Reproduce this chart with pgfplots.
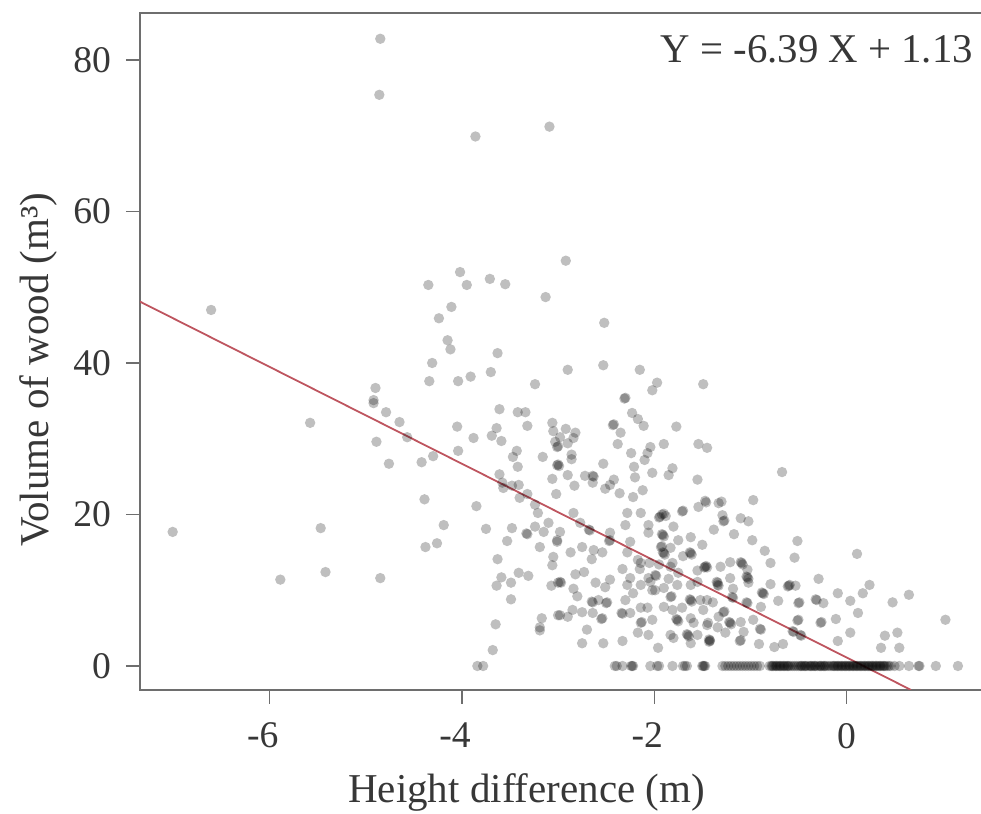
\documentclass[border=0pt]{standalone}
\usepackage{pgfplots}
\pgfplotsset{compat=1.18}
\usepackage{fontspec}
\setmainfont{Liberation Serif}
\definecolor{ax}{RGB}{110,110,110}
\definecolor{txt}{RGB}{55,55,55}
\definecolor{reg}{RGB}{190,85,95}
\newcommand{\neglab}[1]{\makebox[0pt][c]{\hspace{-7pt}#1}}
\begin{document}
\begin{tikzpicture}
\useasboundingbox (0,0) rectangle (490.5pt,407pt);
\begin{axis}[
  at={(70pt,62pt)}, anchor=south west, scale only axis,
  width=423pt, height=338.5pt,
  xmin=-7.35, xmax=1.452, ymin=-3.17, ymax=86.2,
  axis line style={ax,line width=1.3pt},
  xtick pos=lower, ytick pos=left,
  tick style={ax,line width=0.7pt},
  tick align=outside, major tick length=7pt,
  xtick={-6,-4,-2,0}, xticklabels={\neglab{-6},\neglab{-4},\neglab{-2},0},
  ytick={0,20,40,60,80}, yticklabels={0,20,40,60,80},
  every tick label/.append style={font=\fontsize{18.8}{21}\selectfont, text=txt},
  xticklabel style={yshift=-6pt},
  yticklabel style={xshift=-4pt},
  xlabel={Height difference (m)}, ylabel={Volume of wood (m³)},
  label style={font=\fontsize{20.5}{22}\selectfont, text=txt},
  x label style={at={(axis description cs:0.457,-0.151)}, anchor=center},
  y label style={at={(axis description cs:-0.1205,0.473)}, anchor=center},
  clip=true,
]
\addplot[only marks, mark=*, mark size=2.6pt, mark options={draw opacity=0, fill=black, fill opacity=0.25}] coordinates {
(-4.85,82.8) (-4.86,75.4) (-3.86,69.9) (-3.09,71.2) (-4.35,50.3) (-4.02,52.0) (-3.95,50.3) (-3.71,51.1) (-3.55,50.4) (-3.13,48.7)
(-4.11,47.4) (-4.24,45.9) (-4.15,43.0) (-4.12,41.8) (-6.61,47.0) (-2.92,53.5) (-2.52,45.3)
(-3.63,41.3) (-4.31,40.0) (-3.70,38.8) (-3.91,38.2) (-4.04,37.6) (-4.34,37.6) (-3.24,37.2) (-4.90,36.7) (-4.92,35.1) (-4.92,34.7)
(-4.79,33.5) (-4.65,32.2) (-5.58,32.1) (-3.61,33.9) (-3.42,33.5) (-3.34,33.5) (-4.05,31.6) (-3.32,31.7) (-3.64,31.4) (-3.69,30.4)
(-3.59,29.7) (-3.88,30.1) (-4.89,29.6) (-4.57,30.2) (-4.04,28.4) (-4.30,27.7) (-4.42,26.9) (-4.76,26.7) (-3.06,32.1) (-3.05,31.0)
(-3.03,29.6) (-3.01,28.9) (-3.43,28.4) (-3.47,27.6) (-3.16,27.6) (-3.01,26.5) (-3.00,26.6) (-2.99,26.4) (-3.42,26.3) (-3.06,24.7) (-3.61,25.3)
(-3.58,24.2) (-3.57,23.5) (-3.48,23.8) (-3.41,23.9) (-3.40,22.2) (-3.32,22.7) (-3.02,22.7) (-3.24,21.3) (-3.21,20.2) (-4.39,22.0)
(-3.85,21.1) (-4.19,18.6) (-3.75,18.1) (-3.48,18.2) (-5.47,18.2) (-7.01,17.7) (-3.32,17.4) (-3.33,17.5) (-3.24,18.4) (-3.15,17.7) (-3.10,18.9)
(-3.53,16.5) (-3.19,15.7) (-3.01,16.6) (-4.26,16.2) (-4.38,15.7) (-3.63,14.1) (-3.05,14.4) (-3.06,13.3) (-5.42,12.4) (-4.85,11.6)
(-5.89,11.4) (-3.59,11.7) (-3.41,12.3) (-3.31,11.9) (-3.49,11.0) (-3.64,10.6) (-3.07,10.6) (-3.00,11.0) (-3.49,8.8) (-3.65,5.5)
(-3.00,6.7) (-3.17,6.3) (-3.19,5.1) (-3.19,4.7) (-3.68,2.1) (-3.84,0) (-3.78,0)
(-2.90,39.1) (-2.53,39.7) (-2.15,39.1) (-1.49,37.2) (-1.97,37.4) (-2.02,36.4) (-2.30,35.4) (-2.31,35.3) (-2.23,33.4) (-2.17,32.6) (-2.11,31.7)
(-2.42,31.9) (-2.43,31.8) (-2.35,30.8) (-1.77,31.6) (-2.92,31.3) (-2.82,30.8) (-2.84,30.1) (-2.98,30.2) (-3.00,29.0) (-2.90,29.4)
(-2.86,27.9) (-2.86,27.3) (-2.38,29.3) (-2.24,28.1) (-2.04,28.9) (-2.07,28.1) (-2.10,27.2) (-1.90,29.3) (-1.54,29.3) (-1.45,28.8)
(-2.53,26.7) (-2.21,26.3) (-2.20,24.9) (-2.02,25.5) (-1.81,26.1) (-1.85,25.2) (-1.55,24.6) (-2.90,25.2) (-2.72,25.1) (-2.63,25.0) (-2.64,25.1)
(-2.64,24.2) (-2.83,23.8) (-2.42,24.6) (-2.46,23.9) (-2.51,23.4) (-2.36,22.8) (-2.22,22.3) (-2.12,23.2) (-2.84,20.2) (-2.28,20.2)
(-2.14,20.2) (-1.90,20.1) (-1.92,20.0) (-1.88,19.8) (-1.70,20.5) (-1.71,20.4) (-1.54,21.0) (-1.47,21.8) (-1.46,21.6) (-1.33,21.5)
(-2.98,17.7) (-3.01,16.4) (-2.87,15.0) (-2.77,18.9) (-2.68,18.0) (-2.67,17.9) (-2.46,17.6) (-2.46,16.6) (-2.47,16.5) (-2.25,16.4) (-2.28,15.0) (-2.17,14.0)
(-2.75,15.7) (-2.63,15.3) (-2.54,15.0) (-2.65,14.1) (-2.33,12.8) (-2.25,11.6) (-2.28,10.7) (-2.46,11.4) (-2.51,10.4) (-2.61,11.0)
(-2.73,12.4) (-2.82,12.1) (-2.98,11.1) (-2.97,11.0) (-2.84,10.2) (-2.80,9.2) (-2.64,8.4) (-2.65,8.5) (-2.58,8.7) (-2.50,8.3) (-2.49,8.4) (-2.30,8.7) (-2.22,9.6)
(-2.14,10.7) (-2.06,11.6) (-1.99,12.0) (-1.98,11.9) (-1.99,10.0) (-2.07,7.7) (-1.90,7.8) (-1.83,9.1) (-1.82,9.2) (-1.62,8.7) (-1.63,8.8) (-1.61,8.5)
(-1.76,6.1) (-1.77,6.2) (-1.75,5.9) (-1.65,4.1) (-1.66,4.2) (-1.64,3.9) (-1.80,3.7) (-1.62,3.0) (-2.14,5.7) (-2.13,5.8) (-2.17,4.4) (-2.06,4.1) (-2.02,6.1) (-2.33,3.3)
(-2.53,3.0) (-2.75,3.0) (-2.70,4.8) (-2.54,6.3) (-2.55,6.2) (-2.33,6.9) (-2.34,7.0) (-2.25,7.0) (-1.96,2.4) (-2.98,6.7) (-2.90,6.5) (-2.85,7.4)
(-2.75,7.1) (-2.64,7.0) (-1.44,5.7) (-1.42,3.4) (-1.43,3.5) (-1.62,17.0) (-1.62,14.9) (-1.63,15.0) (-1.61,14.7) (-1.90,14.9) (-1.91,15.0) (-1.89,14.7)
(-1.91,17.3) (-1.92,17.4) (-1.90,17.1) (-1.94,19.7) (-1.95,19.6) (-2.06,18.6) (-2.06,17.6) (-1.80,18.4) (-1.47,13.1) (-1.46,13.2) (-1.48,13.0) (-1.34,10.7) (-1.33,10.6)
(-1.83,13.1) (-1.38,18.0) (-1.52,8.7) (-2.14,7.7) (-1.76,10.7) (-1.81,7.4) (-2.02,10.0) (-1.62,10.7) (-1.45,8.7) (-1.33,6.5) (-1.71,7.7) (-1.59,5.7)
(-2.15,12.8) (-2.05,13.6) (-1.95,13.4) (-1.75,12.3) (-1.55,12.6) (-1.70,14.5) (-1.85,11.5) (-1.50,16.0) (-1.75,16.6)
(-2.30,18.6) (-2.14,13.6) (-1.03,12.7) (-1.93,15.7) (-1.92,15.8) (-1.83,15.6) (-1.81,13.6) (-1.49,7.4) (-1.62,6.3) (-1.45,5.4) (-1.90,10.3) (-1.55,11.1) (-2.04,11.1) (-1.83,4.1) (-1.55,4.1) (-1.34,5.1)
(-0.67,25.6) (-0.97,21.9) (-1.30,21.7) (-1.29,19.9) (-1.28,19.1) (-1.27,19.2) (-1.10,19.5) (-1.02,19.1) (-1.17,17.4) (-0.98,16.6) (-0.51,16.5) (-0.54,14.3)
(-0.85,15.2) (-0.79,13.6) (0.11,14.8) (-1.09,13.6) (-1.10,13.7) (-1.08,13.4) (-1.21,13.7) (-1.45,13.0) (-1.31,13.1) (-1.03,11.7) (-1.04,11.8) (-1.02,11.5) (-1.21,11.6)
(-1.34,11.0) (-1.35,11.1) (-1.02,11.0) (-0.29,11.5) (-0.79,10.8) (-0.60,10.6) (-0.61,10.5) (-0.59,10.7) (-0.53,10.6) (-1.18,10.2) (-0.87,9.6) (-0.88,9.7) (-0.86,9.5)
(-0.71,8.6) (-0.09,9.6) (0.24,10.7) (0.17,9.6) (0.65,9.4) (0.48,8.4) (0.04,8.6) (-0.31,8.7) (-0.32,8.8) (-0.24,8.3) (-0.50,8.3) (-0.49,8.4) (-1.03,8.3) (-1.04,8.4)
(-1.18,9.0) (-1.19,9.1) (-1.39,8.4) (-0.89,7.8) (-1.28,7.1) (-1.27,7.2) (0.12,7.0) (1.03,6.1) (-0.11,6.2) (-0.26,5.8) (-0.27,5.7) (-0.50,6.1) (-0.51,6.0) (-0.97,6.1)
(-1.21,5.7) (-1.22,5.8) (-1.20,5.5) (-1.10,5.8) (-0.89,4.8) (-0.90,4.9) (-1.07,4.5) (-1.26,4.4) (-0.55,4.5) (-0.56,4.6) (-0.48,4.1) (-0.47,4.0) (0.04,4.4) (-0.09,3.3)
(0.40,4.0) (0.53,4.4) (0.36,2.4) (0.55,2.4) (-1.42,3.3) (-1.43,3.2) (-1.10,3.4) (-1.11,3.3) (-0.91,2.9) (-0.75,2.5) (-0.66,2.9)
(-2.41,0) (-2.39,0) (-2.33,0) (-2.24,0) (-2.23,0) (-2.22,0) (-2.04,0) (-1.97,0) (-1.95,0) (-1.81,0) (-1.70,0) (-1.68,0) (-1.66,0) (-1.50,0) (-1.49,0) (-1.48,0) (-1.47,0)
(-1.29,0) (-1.26,0) (-1.23,0) (-1.20,0) (-1.17,0) (-1.14,0) (-1.11,0) (-1.08,0) (-1.05,0) (-1.02,0) (-0.99,0) (-0.96,0) (-0.93,0) (-0.90,0)
(-0.80,0) (-0.78,0) (-0.76,0) (-0.74,0) (-0.72,0) (-0.70,0) (-0.68,0) (-0.66,0) (-0.64,0) (-0.62,0) (-0.60,0) (-0.58,0) (-0.56,0) (-0.54,0) (-0.52,0) (-0.50,0) (-0.48,0) (-0.46,0) (-0.44,0) (-0.42,0)
(-0.40,0) (-0.38,0) (-0.36,0) (-0.34,0) (-0.32,0) (-0.30,0) (-0.28,0) (-0.26,0) (-0.24,0) (-0.22,0) (-0.20,0) (-0.18,0) (-0.16,0) (-0.14,0) (-0.12,0) (-0.10,0) (-0.08,0) (-0.06,0) (-0.04,0) (-0.02,0)
(0.00,0) (0.02,0) (0.04,0) (0.06,0) (0.08,0) (0.10,0) (0.12,0) (0.14,0) (0.16,0) (0.18,0) (0.20,0) (0.22,0) (0.24,0) (0.26,0) (0.28,0) (0.30,0) (0.32,0) (0.34,0) (0.36,0) (0.38,0) (0.40,0) (0.42,0) (0.44,0) (0.46,0)
(-0.77,0) (-0.73,0) (-0.69,0) (-0.65,0) (-0.61,0) (-0.47,0) (-0.43,0) (-0.37,0) (-0.33,0) (-0.27,0) (-0.23,0) (-0.13,0) (-0.09,0) (-0.05,0) (-0.01,0) (0.03,0) (0.07,0) (0.11,0) (0.15,0) (0.19,0) (0.23,0) (0.27,0) (0.31,0) (0.35,0) (0.39,0)
(0.50,0) (0.55,0) (0.65,0) (0.75,0) (0.76,0) (0.93,0) (1.16,0)
};
\addplot[reg, line width=0.9pt] coordinates {(-7.35,48.1) (0.67,-3.15)};
\node[anchor=east, inner sep=0pt, font=\fontsize{20.4}{22}\selectfont, text=txt] at (axis cs:1.32,81.4) {Y = -6.39 X + 1.13};
\end{axis}
\end{tikzpicture}
\end{document}
